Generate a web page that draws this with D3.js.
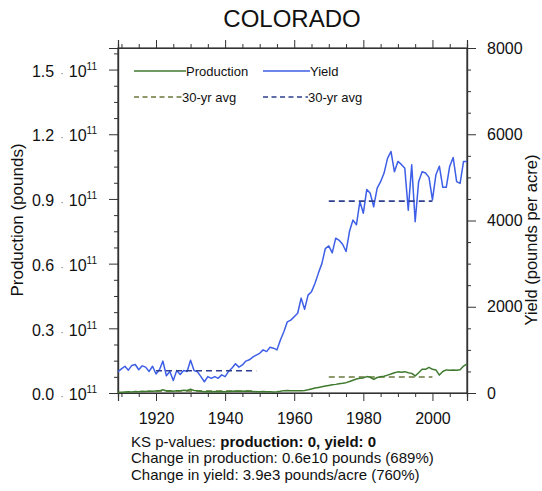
<!DOCTYPE html>
<html>
<head>
<meta charset="utf-8">
<script src="https://cdn.jsdelivr.net/npm/d3@7"></script>
<style>
  html, body { margin: 0; padding: 0; background: #fff; }
  svg { display: block; font-family: "Liberation Sans", Arial, Helvetica, sans-serif; }
</style>
</head>
<body>
<svg id="chart" width="542" height="491"></svg>
<script>
// Colorado crop record, 1909-2010
const firstYear = 1909;

// Yield (pounds per acre), one value per year from 1909
const yieldValues = [
  495, 560, 620, 530, 640, 660, 540, 630, 600, 500,
  620, 440, 540, 740, 400, 500, 290, 520, 430, 520,
  500, 760, 520, 490, 380, 260, 380, 340, 380, 340,
  420, 380, 500, 580, 680, 600, 650, 740, 770, 830,
  880, 920, 1000, 960, 1060, 1040, 1000, 1230, 1420, 1650,
  1690, 1770, 1850, 2200, 1940, 2270, 2350, 2540, 2780, 3000,
  3350, 3410, 3250, 3590, 3540, 3450, 3280, 3750, 4010, 3900,
  4440, 4170, 4720, 4630, 4320, 4750, 4900, 5100, 5440, 5600,
  5130, 5370, 5300, 5210, 4240, 5290, 3970, 4900, 5130, 5100,
  5000, 4480, 5060, 5260, 4770, 4770, 5260, 5460, 4900, 4860,
  5370, 5370
];

// Production (pounds), one value per year from 1909
const productionValues = [
  3e8, 4e8, 5e8, 6e8, 5e8, 7e8, 6e8, 8e8, 7e8, 9e8,
  8e8, 9e8, 1.0e9, 1.5e9, 9e8, 1.0e9, 8e8, 1.0e9, 1.1e9, 1.3e9,
  1.2e9, 1.7e9, 1.2e9, 1.0e9, 8e8, 6e8, 7e8, 6e8, 7e8, 6e8,
  7e8, 6e8, 7e8, 8e8, 9e8, 8e8, 8e8, 9e8, 8e8, 7e8,
  6e8, 6e8, 7e8, 6e8, 6e8, 5e8, 6e8, 8e8, 1.1e9, 1.2e9,
  1.1e9, 1.0e9, 1.1e9, 1.0e9, 1.2e9, 1.5e9, 1.9e9, 2.3e9, 2.6e9, 2.9e9,
  3.2e9, 3.5e9, 3.8e9, 4.0e9, 4.3e9, 4.5e9, 4.8e9, 5.3e9, 5.9e9, 6.5e9,
  6.8e9, 7.0e9, 7.6e9, 7.3e9, 6.3e9, 7.2e9, 7.5e9, 7.8e9, 8.3e9, 8.8e9,
  9.4e9, 9.8e9, 9.6e9, 9.9e9, 9.4e9, 9.1e9, 7.9e9, 9.4e9, 1.1e10, 1.1e10,
  1.19e10, 1.1e10, 1.07e10, 8.3e9, 1.0e10, 1.07e10, 1.06e10, 1.07e10, 1.05e10, 1.08e10,
  1.25e10, 1.35e10
];

// 30-year averages over two periods
const avgPeriods = [[1920, 1949], [1970, 2000]];
const yieldAvg = [517, 4450];
const productionAvg = [9.4e8, 7.4e9];

// Axis ticks
const yearTicks = [1920, 1940, 1960, 1980, 2000];
const prodTicks = [0, 0.3e11, 0.6e11, 0.9e11, 1.2e11, 1.5e11];
const prodTickLabels = ["0.0", "0.3", "0.6", "0.9", "1.2", "1.5"];
const yieldTicks = [0, 2000, 4000, 6000, 8000];

const titleText = "COLORADO";
const noteLines = [
  ["KS p-values: ", "production: 0, yield: 0"],
  ["Change in production: 0.6e10 pounds (689%)", ""],
  ["Change in yield: 3.9e3 pounds/acre (760%)", ""]
];

// Frame
const L = 118, R = 467, T = 48, B = 393;
const svg = d3.select("#chart");

const x = d3.scaleLinear().domain([1909, 2010]).range([L, R]);
const yP = d3.scaleLinear().domain([0, 1.6e11]).range([B, T]);
const yY = d3.scaleLinear().domain([0, 8000]).range([B, T]);

const axisColor = "#333";
const fontStack = '"Liberation Sans", Arial, Helvetica, sans-serif';

function styleAxis(g) {
  g.attr("font-family", fontStack);
  g.select(".domain").attr("stroke", axisColor).attr("stroke-width", 1.2);
  g.selectAll(".tick line").attr("stroke", axisColor).attr("stroke-width", 1);
}

const minorYears = d3.range(1910, 2011, 5).filter(v => !yearTicks.includes(v));
const minorProd = d3.range(0, 1.6e11 + 1, 0.075e11).filter(v => !prodTicks.some(t => Math.abs(t - v) < 1e6));
const minorYield = d3.range(0, 8001, 500).filter(v => !yieldTicks.includes(v));

// Minor ticks on all four sides
svg.append("g").attr("transform", `translate(0,${B})`)
  .call(d3.axisBottom(x).tickValues(minorYears).tickSize(4).tickFormat("")).call(styleAxis);
svg.append("g").attr("transform", `translate(0,${T})`)
  .call(d3.axisTop(x).tickValues(minorYears).tickSize(4).tickFormat("")).call(styleAxis);
svg.append("g").attr("transform", `translate(${L},0)`)
  .call(d3.axisLeft(yP).tickValues(minorProd).tickSize(4).tickFormat("")).call(styleAxis);
svg.append("g").attr("transform", `translate(${R},0)`)
  .call(d3.axisRight(yY).tickValues(minorYield).tickSize(4).tickFormat("")).call(styleAxis);

// Major ticks
svg.append("g").attr("transform", `translate(0,${T})`)
  .call(d3.axisTop(x).tickValues(yearTicks).tickSize(8).tickFormat("")).call(styleAxis);

const xAxis = svg.append("g").attr("transform", `translate(0,${B})`)
  .call(d3.axisBottom(x).tickValues(yearTicks).tickSize(8).tickPadding(19).tickFormat(d3.format("d")))
  .call(styleAxis);
xAxis.selectAll("text").attr("font-size", 16).attr("fill", "#111").attr("dy", "0.25em");

const leftAxis = svg.append("g").attr("transform", `translate(${L},0)`)
  .call(d3.axisLeft(yP).tickValues(prodTicks).tickSize(9).tickPadding(12).tickFormat(""))
  .call(styleAxis);
leftAxis.selectAll(".tick text").each(function(d, i) {
  const t = d3.select(this).attr("font-size", 16).attr("fill", "#111").attr("dy", "0.42em");
  t.text(null);
  t.append("tspan").text(prodTickLabels[i]);
  t.append("tspan").attr("font-size", 11).attr("fill", "#777").attr("dx", 6).text("\u00b7");
  t.append("tspan").attr("dx", 5).text("10");
  t.append("tspan").attr("font-size", 10).attr("dy", -7).text("11");
});

const rightAxis = svg.append("g").attr("transform", `translate(${R},0)`)
  .call(d3.axisRight(yY).tickValues(yieldTicks).tickSize(9).tickPadding(11).tickFormat(d3.format("d")))
  .call(styleAxis);
rightAxis.selectAll("text").attr("font-size", 16).attr("fill", "#111");

// Plot frame
svg.append("rect").attr("x", L).attr("y", T).attr("width", R - L).attr("height", B - T)
  .attr("fill", "none").attr("stroke", axisColor).attr("stroke-width", 1.2);

// Colours
const colYield = "#3d5ee6";
const colYieldAvg = "#2e3f8f";
const colProd = "#3f7a2e";
const colProdAvg = "#6a7a3c";

const plot = svg.append("g");

// 30-year average lines (production)
avgPeriods.forEach((p, i) => {
  plot.append("line")
    .attr("x1", x(p[0])).attr("x2", x(p[1]))
    .attr("y1", yP(productionAvg[i])).attr("y2", yP(productionAvg[i]))
    .attr("stroke", colProdAvg).attr("stroke-width", 1.6).attr("stroke-dasharray", "6,4");
});

const prodLine = d3.line().x((d, i) => x(firstYear + i)).y(d => yP(d));
const yieldLine = d3.line().x((d, i) => x(firstYear + i)).y(d => yY(d));

plot.append("path").datum(productionValues).attr("d", prodLine)
  .attr("fill", "none").attr("stroke", colProd).attr("stroke-width", 1.5).attr("stroke-linejoin", "round");

plot.append("path").datum(yieldValues).attr("d", yieldLine)
  .attr("fill", "none").attr("stroke", colYield).attr("stroke-width", 1.5).attr("stroke-linejoin", "round");

// 30-year average lines (yield)
avgPeriods.forEach((p, i) => {
  plot.append("line")
    .attr("x1", x(p[0])).attr("x2", x(p[1]))
    .attr("y1", yY(yieldAvg[i])).attr("y2", yY(yieldAvg[i]))
    .attr("stroke", colYieldAvg).attr("stroke-width", 1.6).attr("stroke-dasharray", "6,4");
});

// Legend
const legendItems = [
  { x1: 134, x2: 186, y: 71, color: colProd, dash: null, label: "Production" },
  { x1: 263, x2: 310, y: 71, color: colYield, dash: null, label: "Yield" },
  { x1: 134, x2: 182, y: 97, color: colProdAvg, dash: "5,3.5", label: "30-yr avg" },
  { x1: 263, x2: 308, y: 97, color: colYieldAvg, dash: "5,3.5", label: "30-yr avg" }
];
const leg = svg.append("g");
legendItems.forEach(it => {
  leg.append("line").attr("x1", it.x1).attr("x2", it.x2).attr("y1", it.y).attr("y2", it.y)
    .attr("stroke", it.color).attr("stroke-width", 1.4)
    .attr("stroke-dasharray", it.dash);
  leg.append("text").attr("x", it.x2).attr("y", it.y + 4.5)
    .attr("font-size", 13).attr("fill", "#111").text(it.label);
});

// Title
svg.append("text").attr("x", 292).attr("y", 27).attr("text-anchor", "middle")
  .attr("font-size", 24).attr("fill", "#111").text(titleText);

// Axis titles
svg.append("text").attr("transform", "translate(23,220) rotate(-90)")
  .attr("text-anchor", "middle").attr("font-size", 17).attr("fill", "#111")
  .text("Production (pounds)");
svg.append("text").attr("transform", "translate(537,240) rotate(-90)")
  .attr("text-anchor", "middle").attr("font-size", 16.5).attr("fill", "#111")
  .text("Yield (pounds per acre)");

// Notes under the plot
noteLines.forEach((ln, i) => {
  const t = svg.append("text").attr("x", 131).attr("y", 447 + i * 16.3)
    .attr("font-size", 15).attr("fill", "#111");
  t.append("tspan").text(ln[0]);
  if (ln[1]) t.append("tspan").attr("font-weight", "bold").text(ln[1]);
});
</script>
</body>
</html>
